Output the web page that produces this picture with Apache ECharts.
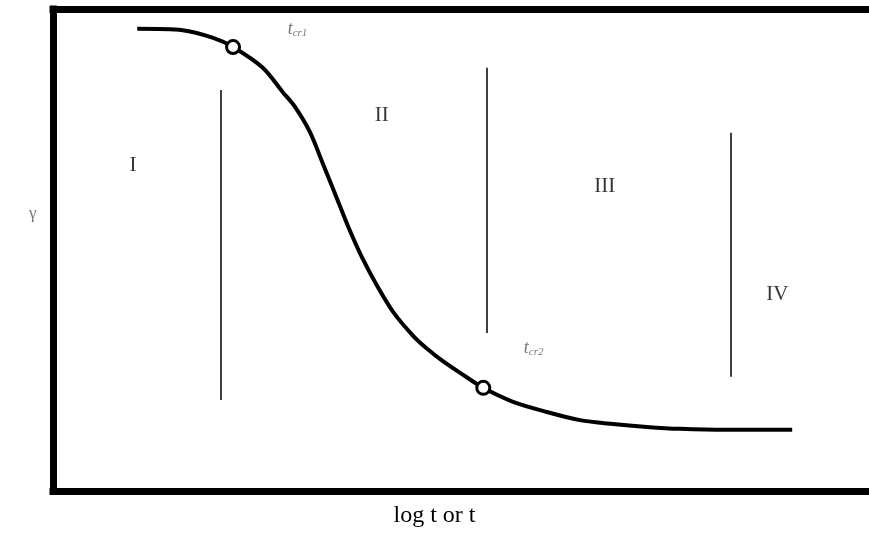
<!DOCTYPE html>
<html>
<head>
<meta charset="utf-8">
<script src="https://cdn.jsdelivr.net/npm/echarts@6/dist/echarts.min.js"></script>
<style>
html, body { margin: 0; padding: 0; background: #fff; }
#main { width: 869px; height: 548px; }
</style>
</head>
<body>
<div id="main"></div>
<script>
// relaxation curve (x: log t, y: gamma, arbitrary units)
var curveX = [10.2, 15.7, 19.4, 21.8, 25.4, 27.8, 29.3, 31.1, 32.7, 34.4, 35.8, 37.4, 39.2, 41.2, 43.6, 45.3, 47.0, 49.3, 52.1, 55.7, 59.8, 63.8, 67.8, 71.9, 75.9, 81.6, 89.5];
var curveY = [95.9, 95.6, 94.0, 92.1, 87.8, 82.8, 79.7, 74.5, 67.8, 60.6, 54.6, 48.5, 42.7, 37.1, 32.2, 29.5, 27.2, 24.5, 21.4, 18.5, 16.4, 14.7, 13.9, 13.3, 12.9, 12.7, 12.7];

// critical points
var critNames = ['cr1', 'cr2'];
var critX = [21.8, 52.1];
var critY = [92.1, 21.4];
var critLabelX = [29.6, 58.2];
var critLabelY = [95.8, 29.6];

// region dividers
var dividerX = [20.3, 52.5, 82.1];
var dividerTop = [83.2, 87.8, 74.3];
var dividerBottom = [18.9, 32.8, 23.7];

// region labels
var regionNames = ['I', 'II', 'III', 'IV'];
var regionX = [9.7, 39.8, 66.8, 87.7];
var regionY = [67.6, 78.0, 63.1, 40.7];

var myChart = echarts.init(document.getElementById('main'));

var curveData = curveX.map(function (x, i) { return [x, curveY[i]]; });
var critData = critX.map(function (x, i) { return [x, critY[i]]; });
var critLabelData = critLabelX.map(function (x, i) {
    return { value: [x, critLabelY[i]], name: critNames[i] };
});
var regionData = regionX.map(function (x, i) {
    return { value: [x, regionY[i]], name: regionNames[i] };
});
var dividerData = dividerX.map(function (x, i) {
    return [{ coord: [x, dividerTop[i]] }, { coord: [x, dividerBottom[i]] }];
});

var frameLine = { show: true, lineStyle: { color: '#000', width: 7, cap: 'square' } };
var hidden = {
    axisTick: { show: false },
    axisLabel: { show: false },
    splitLine: { show: false }
};

var option = {
    animation: false,
    backgroundColor: '#fff',
    title: [
        {
            text: 'γ',
            left: 24,
            top: 200,
            textStyle: { fontFamily: 'Liberation Serif', fontSize: 17, fontWeight: 'normal', color: '#777' }
        },
        {
            text: 'log t or t',
            left: 'center',
            top: 499,
            textStyle: { fontFamily: 'Liberation Serif', fontSize: 24, fontWeight: 'normal', color: '#000' }
        }
    ],
    grid: {
        left: 53,
        top: 9,
        right: 0,
        bottom: 57
    },
    xAxis: [
        Object.assign({ type: 'value', min: 0, max: 98.8, position: 'bottom', axisLine: frameLine }, hidden),
        Object.assign({ type: 'value', min: 0, max: 98.8, position: 'top', axisLine: frameLine }, hidden)
    ],
    yAxis: Object.assign({ type: 'value', min: 0, max: 100, axisLine: frameLine }, hidden),
    series: [
        {
            type: 'line',
            data: curveData,
            smooth: 0.3,
            showSymbol: false,
            lineStyle: { color: '#000', width: 4 },
            markLine: {
                symbol: ['none', 'none'],
                silent: true,
                label: { show: false },
                lineStyle: { color: '#000', width: 1.5, type: 'solid' },
                data: dividerData
            }
        },
        {
            type: 'scatter',
            data: critData,
            symbol: 'circle',
            symbolSize: 13,
            itemStyle: { color: '#fff', borderColor: '#000', borderWidth: 3, opacity: 1 },
            z: 5
        },
        {
            type: 'scatter',
            data: critLabelData,
            symbolSize: 0,
            label: {
                show: true,
                position: 'inside',
                formatter: function (p) { return '{t|t}{s|' + p.name + '}'; },
                rich: {
                    t: { fontFamily: 'Liberation Serif', fontStyle: 'italic', fontSize: 18, color: '#555' },
                    s: { fontFamily: 'Liberation Serif', fontStyle: 'italic', fontSize: 11, color: '#555', padding: [7, 0, 0, 0] }
                }
            }
        },
        {
            type: 'scatter',
            data: regionData,
            symbolSize: 0,
            label: {
                show: true,
                position: 'inside',
                formatter: '{b}',
                fontFamily: 'Liberation Serif',
                fontSize: 21,
                color: '#000'
            }
        }
    ]
};

myChart.setOption(option);
</script>
</body>
</html>
